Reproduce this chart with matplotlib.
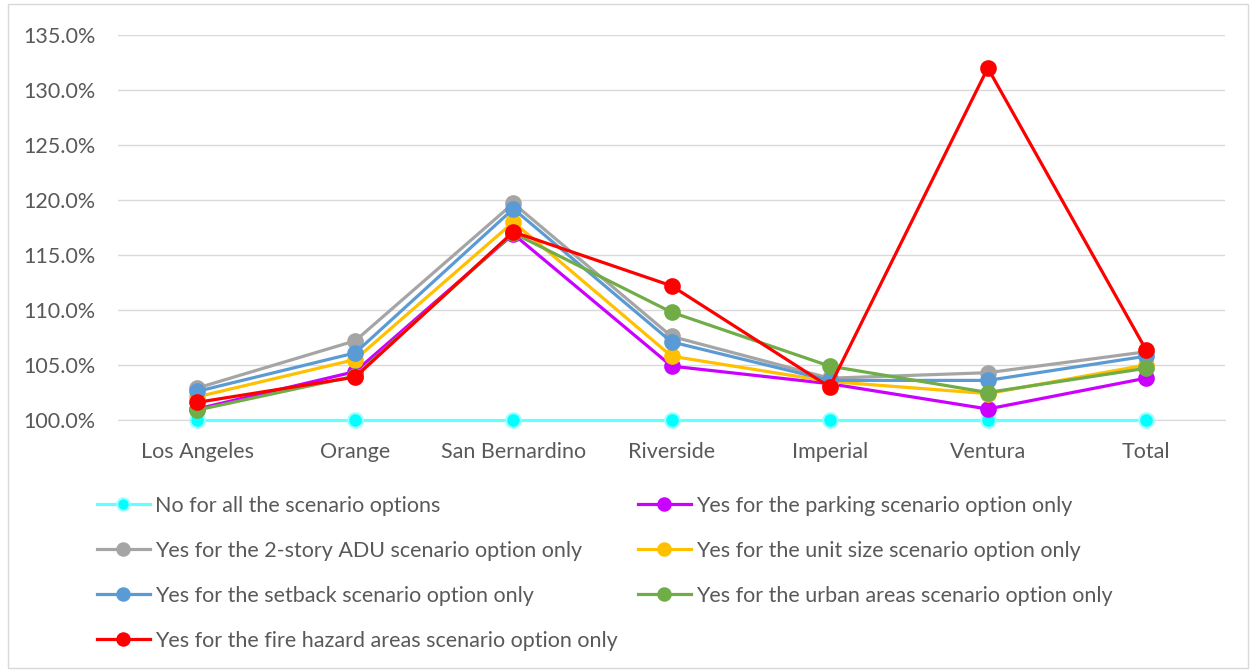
import matplotlib
matplotlib.use("Agg")
import matplotlib.pyplot as plt
from matplotlib.ticker import FuncFormatter, MultipleLocator
from matplotlib.patches import Rectangle

categories = ["Los Angeles", "Orange", "San Bernardino", "Riverside", "Imperial", "Ventura", "Total"]

no_options = [100.0, 100.0, 100.0, 100.0, 100.0, 100.0, 100.0]
parking = [101.0, 104.4, 116.9, 104.9, 103.3, 101.0, 103.8]
two_story = [102.9, 107.2, 119.7, 107.6, 103.8, 104.3, 106.2]
unit_size = [102.1, 105.5, 118.0, 105.8, 103.5, 102.4, 105.0]
setback = [102.6, 106.1, 119.2, 107.1, 103.6, 103.6, 105.8]
urban = [100.9, 104.0, 117.0, 109.8, 104.9, 102.5, 104.7]
fire = [101.6, 103.9, 117.1, 112.2, 103.0, 132.0, 106.4]

series = [
    ("No for all the scenario options", no_options, "#66ffff", "#00ffff", "#99ffff"),
    ("Yes for the parking scenario option only", parking, "#cc00ff", "#cc00ff", "#cc00ff"),
    ("Yes for the 2-story ADU scenario option only", two_story, "#a5a5a5", "#a5a5a5", "#a5a5a5"),
    ("Yes for the unit size scenario option only", unit_size, "#ffc000", "#ffc000", "#ffc000"),
    ("Yes for the setback scenario option only", setback, "#5b9bd5", "#5b9bd5", "#5b9bd5"),
    ("Yes for the urban areas scenario option only", urban, "#70ad47", "#70ad47", "#70ad47"),
    ("Yes for the fire hazard areas scenario option only", fire, "#ff0000", "#ff0000", "#ff0000"),
]

plt.rcParams['font.family'] = ['Lato', 'DejaVu Sans']

fig = plt.figure(figsize=(12.52, 6.70), dpi=100)
W, H = 1252, 670
ax = fig.add_axes([118 / W, 1 - 420 / H, (1225 - 118) / W, (420 - 35) / H])

x = list(range(len(categories)))
handles = []
for label, vals, lc, mc, ec in series:
    h, = ax.plot(x, vals, color=lc, lw=2.3, marker="o", markersize=10.5,
                 markerfacecolor=mc, markeredgecolor=ec, markeredgewidth=1.5,
                 label=label, zorder=4, clip_on=False)
    handles.append(h)

ax.set_xlim(-0.5, len(categories) - 0.5)
ax.set_ylim(100, 135)
ax.yaxis.set_major_locator(MultipleLocator(5))
ax.yaxis.set_major_formatter(FuncFormatter(lambda v, p: f"{v:.1f}%"))
ax.set_xticks(x)
ax.set_xticklabels(categories)
ax.grid(axis="y", color="#d9d9d9", lw=1.0, zorder=0)
ax.set_axisbelow(True)
for s in ["top", "right", "left"]:
    ax.spines[s].set_visible(False)
ax.spines["bottom"].set_color("#d9d9d9")
ax.spines["bottom"].set_zorder(1)
ax.tick_params(axis="both", length=0, labelsize=15.5, colors="#595959")
ax.tick_params(axis="y", pad=16)
ax.tick_params(axis="x", pad=15.5)

# legend: row-major ordering across two columns
left_h = [handles[0], handles[2], handles[4], handles[6]]
right_h = [handles[1], handles[3], handles[5]]
kw = dict(frameon=False, fontsize=15.5, handlelength=2.45, handletextpad=0.25,
          labelspacing=1.16, borderaxespad=0, borderpad=0, labelcolor="#595959",
          markerscale=0.85)
leg1 = fig.legend(handles=left_h, labels=[h.get_label() for h in left_h],
                  loc="upper left", bbox_to_anchor=(97 / W, 1 - 496 / H), **kw)
leg2 = fig.legend(handles=right_h, labels=[h.get_label() for h in right_h],
                  loc="upper left", bbox_to_anchor=(638 / W, 1 - 496 / H), **kw)

fig.patches.append(Rectangle((8 / W, 2 / H), (1248 - 8) / W, (666 - 2) / H,
                             transform=fig.transFigure, fill=False,
                             edgecolor="#d9d9d9", lw=1.0))

fig.savefig("out.png", dpi=100)
